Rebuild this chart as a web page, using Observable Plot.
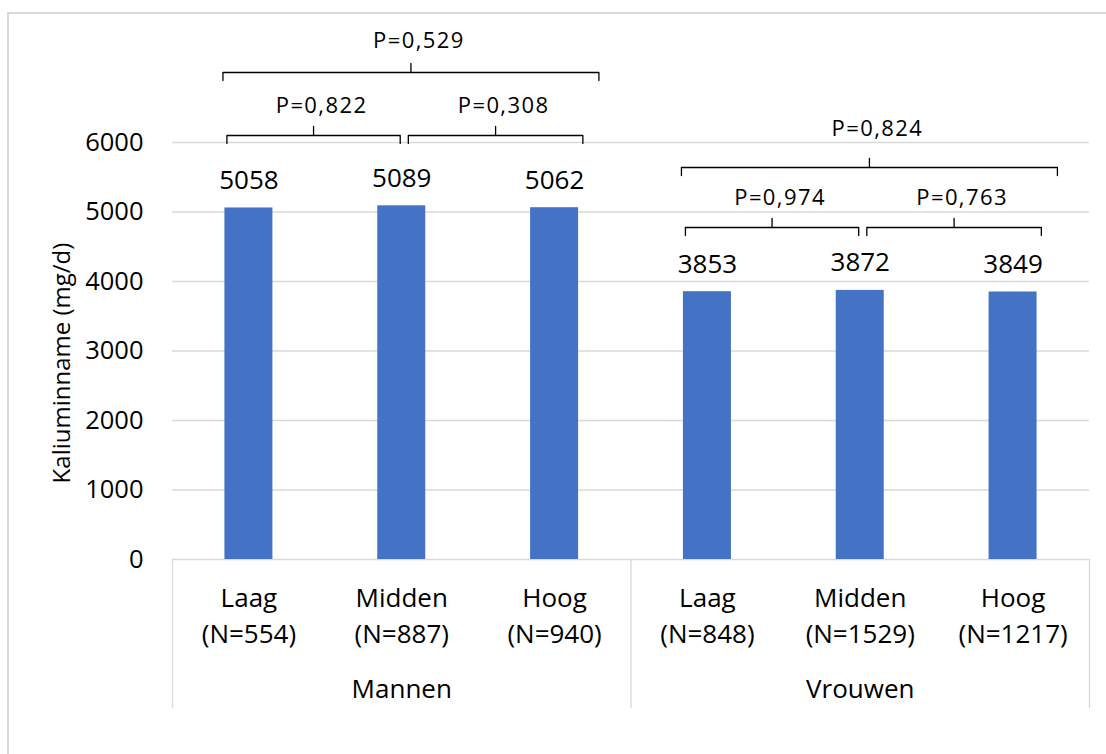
<!DOCTYPE html>
<html><head><meta charset="utf-8">
<script src="https://cdn.jsdelivr.net/npm/d3@7"></script>
<script src="https://cdn.jsdelivr.net/npm/@observablehq/plot@0.6"></script>
<style>
html,body{margin:0;padding:0;background:#fff;width:1106px;height:754px;overflow:hidden}
#frame{position:absolute;left:7px;top:12px;width:1200px;height:900px;border-left:2px solid #d9d9d9;border-top:2px solid #d9d9d9;box-sizing:border-box}
#chart{position:absolute;left:0;top:0}
</style></head><body><div id="frame"></div><div id="chart"></div>
<script>
// ---- data ----
const groups = ["Mannen", "Vrouwen"];
const levels = ["Laag", "Midden", "Hoog"];
const sampleSizes = [554, 887, 940, 848, 1529, 1217];
const values = [5058, 5089, 5062, 3853, 3872, 3849];
const yTicks = [0, 1000, 2000, 3000, 4000, 5000, 6000];
const pLabels = ["P=0,822", "P=0,308", "P=0,529", "P=0,974", "P=0,763", "P=0,824"];
const pFrom = [0, 1, 0, 3, 4, 3];
const pTo = [1, 2, 2, 4, 5, 5];
const yTitle = "Kaliuminname (mg/d)";

// ---- layout (not data) ----
const barHalf = 0.157;
const ends = {inner1: [-0.144, -0.01], inner2: [0.043, 0.185], outer: [-0.17, 0.29]};
const lift = [1012, 905];      // inner bracket above group max (data units)
const outerStep = [906, 863];  // outer bracket above inner bracket
const drop = 115, rise = 130;

const bars = values.map((v, i) => ({
  i, v, group: groups[Math.floor(i / 3)], level: levels[i % 3], n: sampleSizes[i]
}));

const brackets = pLabels.map((label, k) => {
  const a = pFrom[k], b = pTo[k], g = Math.floor(a / 3);
  const gmax = d3.max(values.slice(g * 3, g * 3 + 3));
  const kind = b - a === 2 ? "outer" : (a % 3 === 0 ? "inner1" : "inner2");
  const inner = gmax + lift[g];
  const level = kind === "outer" ? inner + outerStep[g] : inner;
  const x1 = a + ends[kind][0], x2 = b + ends[kind][1];
  return {id: k, g, label, kind, level, x1, x2, mid: (x1 + x2) / 2};
});
const bracketPts = brackets.flatMap(br => [
  {id: br.id, x: br.x1, y: br.level - drop},
  {id: br.id, x: br.x1, y: br.level},
  {id: br.id, x: br.mid, y: br.level},
  {id: br.id, x: br.mid, y: br.level + rise},
  {id: br.id, x: br.mid, y: br.level},
  {id: br.id, x: br.x2, y: br.level},
  {id: br.id, x: br.x2, y: br.level - drop}
]);

const chart = Plot.plot({
  width: 1106, height: 754,
  marginLeft: 172, marginRight: 17, marginTop: 142, marginBottom: 195,
  style: {fontFamily: "'Open Sans', sans-serif", background: "transparent", color: "#000", overflow: "visible"},
  x: {domain: [-0.5, 5.5], axis: null},
  y: {domain: [0, 6000], axis: null},
  marks: [
    Plot.ruleY(yTicks, {stroke: "#d9d9d9", strokeWidth: 1.3}),
    Plot.ruleX([-0.5, 2.5, 5.5], {y1: 0, y2: -2145, stroke: "#d9d9d9", strokeWidth: 1.3}),
    Plot.axisY({ticks: yTicks, tickSize: 0, tickPadding: 29, fontSize: 25.5, label: null, tickFormat: d => String(d), fill: "#000"}),
    Plot.rectY(bars, {x1: d => d.i - barHalf, x2: d => d.i + barHalf, y1: 0, y2: "v", fill: "#4472C4"}),
    Plot.text(bars, {x: "i", y: "v", text: d => String(d.v), dy: -19, lineAnchor: "bottom", fontSize: 26, fill: "#000"}),
    Plot.text(bars, {x: "i", y: 0, text: d => `${d.level}\n(N=${d.n})`, lineAnchor: "top", dy: 22, lineHeight: 1.38, fontSize: 26, fill: "#000"}),
    Plot.text(groups, {x: (d, j) => j * 3 + 1, y: 0, text: d => d, lineAnchor: "top", dy: 120, fontSize: 26, fill: "#000"}),
    Plot.text([yTitle], {frameAnchor: "left", textAnchor: "middle", dx: -110, dy: 12, rotate: -90, text: d => d, fontSize: 24, fill: "#000"}),
    Plot.line(bracketPts, {x: "x", y: "y", z: "id", stroke: "#000", strokeWidth: 1.3, strokeLinejoin: "round"}),
    Plot.text(brackets.filter(b => b.kind !== "outer"), {x: "mid", y: "level", text: "label", dx: 8, dy: -22, lineAnchor: "bottom", fontSize: 22, fill: "#000"}),
    Plot.text(brackets.filter(b => b.kind === "outer" && b.g === 0), {x: "mid", y: "level", text: "label", dx: 8, dy: -25, lineAnchor: "bottom", fontSize: 22, fill: "#000"}),
    Plot.text(brackets.filter(b => b.kind === "outer" && b.g === 1), {x: "mid", y: "level", text: "label", dx: 8, dy: -32, lineAnchor: "bottom", fontSize: 22, fill: "#000"})
  ]
});
d3.select(chart).selectAll("text").filter(function() { return /^P=/.test(this.textContent); })
  .style("letter-spacing", "1.4px");
document.getElementById("chart").appendChild(chart);
</script></body></html>
